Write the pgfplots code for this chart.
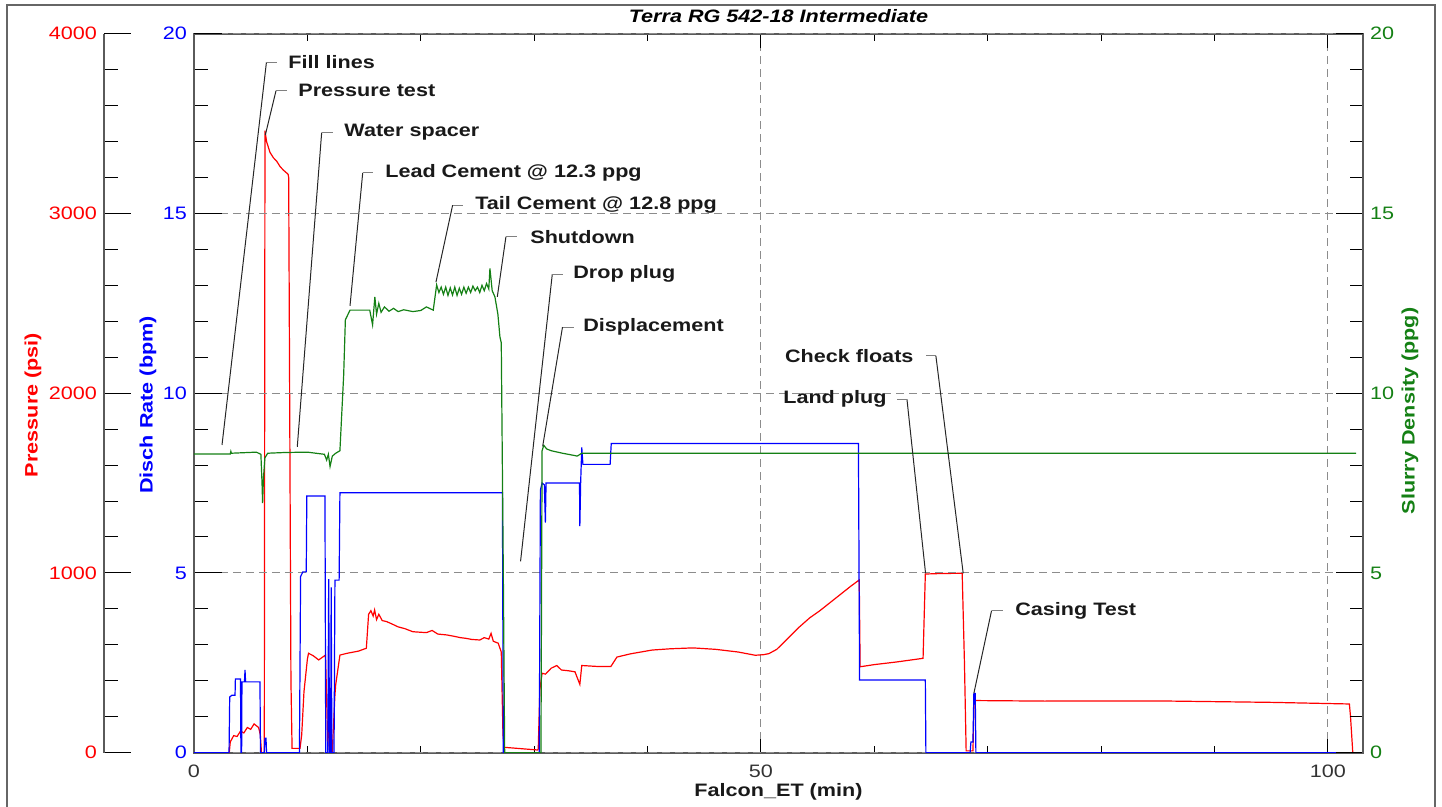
\documentclass[border=0pt]{standalone}
\usepackage{pgfplots}
\pgfplotsset{compat=1.18}
\usepackage{fontspec}
\setmainfont[FakeStretch=1.2]{Liberation Sans}

\definecolor{pred}{RGB}{255,0,0}
\definecolor{pblue}{RGB}{0,0,255}
\definecolor{pgreen}{RGB}{20,128,20}
\definecolor{axgray}{RGB}{90,90,90}

\pgfplotsset{
  base/.style={
    scale only axis, width=584.5pt, height=359.5pt,
    xmin=0, xmax=103.1,
    font=\fontsize{9}{10}\selectfont,
    /pgf/number format/assume math mode=true,
    /pgf/number format/1000 sep={},
    axis line style={axgray, line width=1pt},
    tick style={black, line width=0.5pt},
    tick align=inside,
    grid style={black!45, dash pattern=on 4pt off 2.5pt, line width=0.5pt},
  },
}

\begin{document}
\begin{tikzpicture}
\path[use as bounding box] (-97pt,-27.15pt) rectangle (624pt,376.35pt);
\draw[line width=1pt, black!60] (-93.5pt,-32pt) rectangle (620.5pt,373.85pt);

% frame, x axis, title
\begin{axis}[base,
  ymin=0, ymax=20, ytick=\empty,
  xtick={0,50,100}, minor x tick num=4,
  major tick length=7pt, minor tick length=3.5pt,
  xmajorgrids,
  xticklabel style={text=black!80, yshift=-2.5pt},
  xlabel={Falcon\_ET (min)},
  every axis x label/.style={at={(axis description cs:0.5,-0.0542)}, anchor=center,
    font=\fontsize{9}{10}\selectfont\bfseries, text=black!90},
  title={\bfseries\itshape Terra RG 542-18 Intermediate},
  every axis title/.style={at={(axis description cs:0.5,1.0246)}, anchor=center},
]
\end{axis}

% pressure data
\begin{axis}[base, ymin=0, ymax=4000, hide axis]
\addplot[pred, line width=0.6pt] coordinates {
(0,0) (3.11,0) (3.2,60) (3.5,95) (3.8,90) (4.1,120) (4.4,110) (4.7,140) (5.0,130)
(5.3,160) (5.5,150) (5.7,140) (5.85,100) (5.95,0) (6.2,0) (6.26,3460) (6.4,3400)
(6.7,3340) (7.0,3310) (7.3,3290) (7.6,3260) (7.9,3240) (8.3,3218) (8.35,3200)
(8.55,400) (8.65,24) (9.35,24) (9.5,100) (9.7,340) (10.0,520) (10.1,553) (10.5,540)
(11.0,516) (11.3,530) (11.6,543) (11.7,300) (11.8,15) (11.95,332) (12.1,50) (12.2,10)
(12.43,321) (12.5,380) (12.87,543) (13.5,553) (14.5,565) (15.2,581) (15.4,770)
(15.6,790) (15.8,760) (15.93,794) (16.1,740) (16.3,770) (16.6,735) (17.0,729)
(17.5,715) (18.0,700) (18.6,690) (19.3,673) (20.0,670) (20.5,668) (21.0,680) (21.5,660)
(22.3,655) (22.9,648) (23.5,640) (24.0,636) (24.5,630) (25.2,627) (25.6,640) (26.0,632)
(26.2,664) (26.4,620) (26.83,609) (27.1,560) (27.25,100) (27.35,30) (30.3,15)
(30.36,20) (30.5,350) (30.7,442) (31.0,437) (31.5,470) (32.0,485) (32.4,460)
(33.0,456) (33.6,450) (34.03,380) (34.2,485) (35.5,480) (36.76,479) (37.3,532)
(38.5,550) (40.4,571) (42.0,578) (44.0,583) (46.0,575) (48.0,560) (49.0,548)
(49.5,542) (50.2,545) (50.7,551) (51.4,575) (52.2,625) (53.4,700) (54.3,750) (55.2,790)
(56.1,835) (57.0,880) (57.9,925) (58.67,961) (58.75,478) (60.0,490) (62.0,505)
(64.3,525) (64.5,994) (66.0,997) (67.75,998) (67.95,500) (68.1,10) (68.7,10)
(68.8,293) (69.0,290) (75,287) (85,288) (95,280) (101.9,271) (102.0,200) (102.2,0)
(103.1,0)
};
\end{axis}

% pressure axis (offset to the left)
\begin{axis}[base, at={(-45pt,0pt)}, width=10pt, xmin=0, xmax=1,
  ymin=0, ymax=4000, hide x axis, axis y line*=left,
  ytick={0,1000,...,4000}, minor y tick num=4,
  major tick length=13.5pt, minor tick length=7pt,
  yticklabel style={text=pred},
  ylabel={Pressure (psi)},
  every axis y label/.style={at={(axis description cs:0,0.4836)}, xshift=-35.5pt,
    rotate=90, anchor=center, text=pred, font=\fontsize{9}{10}\selectfont\bfseries},
]
\end{axis}

% discharge rate
\begin{axis}[base, ymin=0, ymax=20, hide x axis, axis y line*=left,
  ytick={0,5,...,20}, minor y tick num=4,
  major tick length=14pt, minor tick length=7pt,
  ymajorgrids,
  yticklabel style={text=pblue},
  ylabel={Disch Rate (bpm)},
  every axis y label/.style={at={(axis description cs:0,0.4836)}, xshift=-23pt,
    rotate=90, anchor=center, text=pblue, font=\fontsize{9}{10}\selectfont\bfseries},
]
\addplot[pblue, line width=0.6pt] coordinates {
(0,0) (3.09,0) (3.15,1.55) (3.35,1.6) (3.62,1.6) (3.65,2.05) (4.1,2.05) (4.14,0)
(4.2,0) (4.23,1.97) (4.45,1.97) (4.5,2.3) (4.55,1.97) (5.82,1.97) (5.86,0) (6.2,0)
(6.26,0.4) (6.35,0.4) (6.4,0) (9.3,0) (9.4,4.9) (9.6,5.03) (9.9,5.03) (9.95,7.14)
(11.55,7.14) (11.62,0) (11.8,0) (11.88,4.83) (11.95,0) (12.05,0) (12.1,4.6)
(12.16,0) (12.35,0) (12.43,4.8) (12.8,4.8) (12.87,7.23) (27.2,7.23) (27.28,0)
(30.45,0) (30.55,7.3) (30.7,7.5) (30.9,7.45) (30.99,6.4) (31.05,7.5) (34.0,7.5)
(34.03,6.3) (34.1,7.5) (34.2,8.49) (34.3,8.02) (36.7,8.02) (36.8,8.6) (58.6,8.6)
(58.7,2.02) (64.5,2.02) (64.55,0) (68.45,0) (68.52,0.3) (68.7,0.3) (68.78,1.65)
(68.9,1.65) (68.96,0) (103.1,0)
};
\end{axis}

% slurry density
\begin{axis}[base, ymin=0, ymax=20, hide x axis, axis y line*=right,
  ytick={0,5,...,20}, minor y tick num=4,
  major tick length=13.5pt, minor tick length=6.5pt,
  yticklabel style={text=pgreen},
  ylabel={Slurry Density (ppg)},
  every axis y label/.style={at={(axis description cs:1,0.4753)}, xshift=23.5pt,
    rotate=90, anchor=center, text=pgreen, font=\fontsize{9}{10}\selectfont\bfseries},
]
\addplot[pgreen, line width=0.6pt] coordinates {
(0,8.31) (3.2,8.31) (3.25,8.38) (3.3,8.33) (5.5,8.36) (5.9,8.3) (6.0,7.5) (6.05,6.94)
(6.12,7.6) (6.25,8.2) (6.5,8.33) (8,8.35) (10,8.36) (11.5,8.3) (11.7,8.14) (11.85,8.3)
(12.0,7.96) (12.2,8.25) (12.5,8.33) (12.87,8.4) (13.2,10.5) (13.35,12.04) (13.76,12.31)
(15.5,12.31) (15.75,11.9) (15.95,12.68) (16.1,12.2) (16.3,12.5) (16.5,12.25)
(16.8,12.4) (17.2,12.28) (17.6,12.36) (18.0,12.27) (18.5,12.32) (19.3,12.27)
(20.0,12.3) (20.5,12.4) (21.1,12.31) (21.4,13.01) (21.6,12.8) (21.8,12.95) (22.0,12.75)
(22.2,12.95) (22.4,12.72) (22.6,12.93) (22.8,12.73) (23.0,12.95) (23.2,12.72)
(23.4,12.92) (23.6,12.75) (23.8,12.95) (24.0,12.78) (24.2,12.95) (24.4,12.8)
(24.6,12.98) (24.8,12.85) (25.0,12.95) (25.2,12.8) (25.4,13.0) (25.6,12.85)
(25.8,13.05) (26.0,12.9) (26.1,13.47) (26.3,12.85) (26.54,12.68) (26.8,12.2)
(26.98,11.57) (27.1,11.4) (27.28,5) (27.4,0) (30.6,0) (30.7,8.4) (30.85,8.55)
(31.1,8.45) (31.5,8.4) (32.5,8.33) (33.0,8.3) (33.5,8.27) (33.8,8.25) (34.2,8.33)
(102.5,8.33)
};

% annotations
\tikzset{lead/.style={black!85, line width=0.5pt}, hook/.style={black!50, line width=0.5pt},
  lbl/.style={inner sep=0pt, font=\fontsize{9}{10}\selectfont\bfseries, text=black!90}}
\draw[lead] (axis cs:2.47,8.56) -- (axis cs:6.39,19.21);
\draw[hook] (axis cs:6.39,19.21) -- (axis cs:7.32,19.21);
\node[lbl, anchor=west] at (axis cs:8.29,19.21) {Fill lines};

\draw[lead] (axis cs:6.29,17.18) -- (axis cs:7.23,18.41);
\draw[hook] (axis cs:7.23,18.41) -- (axis cs:8.17,18.41);
\node[lbl, anchor=west] at (axis cs:9.17,18.41) {Pressure test};

\draw[lead] (axis cs:9.11,8.51) -- (axis cs:11.26,17.25);
\draw[hook] (axis cs:11.26,17.25) -- (axis cs:12.28,17.25);
\node[lbl, anchor=west] at (axis cs:13.23,17.25) {Water spacer};

\draw[lead] (axis cs:13.76,12.43) -- (axis cs:14.88,16.13);
\draw[hook] (axis cs:14.88,16.13) -- (axis cs:15.81,16.13);
\node[lbl, anchor=west] at (axis cs:16.84,16.13) {Lead Cement @ 12.3 ppg};

\draw[lead] (axis cs:21.34,13.09) -- (axis cs:22.81,15.23);
\draw[hook] (axis cs:22.81,15.23) -- (axis cs:23.75,15.23);
\node[lbl, anchor=west] at (axis cs:24.78,15.23) {Tail Cement @ 12.8 ppg};

\draw[lead] (axis cs:26.75,12.68) -- (axis cs:27.51,14.35);
\draw[hook] (axis cs:27.51,14.35) -- (axis cs:28.51,14.35);
\node[lbl, anchor=west] at (axis cs:29.63,14.35) {Shutdown};

\draw[lead] (axis cs:28.8,5.32) -- (axis cs:31.6,13.31);
\draw[hook] (axis cs:31.6,13.31) -- (axis cs:32.57,13.31);
\node[lbl, anchor=west] at (axis cs:33.42,13.31) {Drop plug};

\draw[lead] (axis cs:30.75,8.52) -- (axis cs:32.5,11.84);
\draw[hook] (axis cs:32.5,11.84) -- (axis cs:33.48,11.84);
\node[lbl, anchor=west] at (axis cs:34.3,11.84) {Displacement};

\draw[lead] (axis cs:67.84,4.99) -- (axis cs:65.43,11.04);
\draw[hook] (axis cs:65.43,11.04) -- (axis cs:64.55,11.04);
\node[lbl, anchor=east] at (axis cs:63.49,11.04) {Check floats};

\draw[lead] (axis cs:64.52,4.99) -- (axis cs:62.88,9.83);
\draw[hook] (axis cs:62.88,9.83) -- (axis cs:62.02,9.83);
\node[lbl, anchor=east] at (axis cs:61.11,9.83) {Land plug};

\draw[lead] (axis cs:68.78,1.65) -- (axis cs:70.34,3.95);
\draw[hook] (axis cs:70.34,3.95) -- (axis cs:71.36,3.95);
\node[lbl, anchor=west] at (axis cs:72.4,3.95) {Casing Test};
\end{axis}
\end{tikzpicture}
\end{document}
